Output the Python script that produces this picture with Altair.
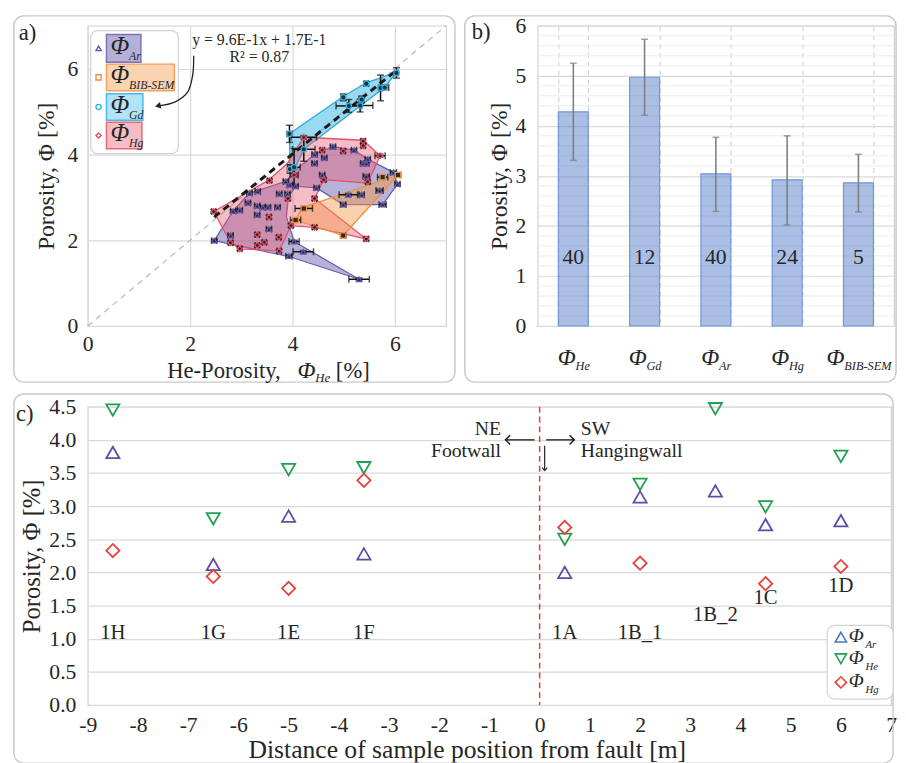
import altair as alt
import pandas as pd

FONT = "Liberation Serif, Times New Roman, DejaVu Serif, serif"
TXT = "#262626"
FRAME = "#c9c9c9"

# ---------------- panel a : values ----------------
ar_he = [2.47, 2.79, 2.84, 2.97, 3.13, 3.16, 3.32, 3.31, 3.42, 3.52, 3.31, 3.54, 3.71, 3.74, 3.90, 3.87, 3.95, 4.06, 3.93, 4.03,
         4.21, 5.30, 4.43, 4.62, 4.43, 4.79, 5.20, 5.47, 5.38, 5.44, 4.58, 5.44, 5.97, 6.05, 4.47, 5.09, 5.35, 5.70, 4.99, 5.76]
ar_phi = [1.99, 2.11, 2.68, 2.70, 2.87, 3.10, 3.14, 2.80, 2.77, 2.77, 2.59, 2.26, 2.77, 3.08, 3.08, 3.37, 3.29, 3.26, 1.63, 1.97,
          1.73, 1.09, 4.00, 3.92, 3.79, 4.18, 4.10, 3.89, 3.79, 3.79, 3.52, 3.49, 3.58, 3.31, 3.22, 3.06, 3.06, 3.16, 2.83, 2.83]
ar_xerr = [0.05, 0.05, 0.05, 0.05, 0.05, 0.05, 0.05, 0.05, 0.05, 0.05, 0.05, 0.05, 0.05, 0.05, 0.05, 0.05, 0.05, 0.05, 0.06, 0.10,
           0.20, 0.20, 0.05, 0.05, 0.05, 0.05, 0.05, 0.05, 0.05, 0.05, 0.05, 0.06, 0.06, 0.05, 0.05, 0.18, 0.05, 0.07, 0.05, 0.07]
ar_yerr = [0.03, 0.03, 0.03, 0.03, 0.03, 0.03, 0.03, 0.03, 0.03, 0.03, 0.03, 0.03, 0.03, 0.03, 0.03, 0.03, 0.03, 0.03, 0.03, 0.03,
           0.03, 0.03, 0.03, 0.03, 0.03, 0.03, 0.03, 0.03, 0.03, 0.03, 0.03, 0.03, 0.03, 0.03, 0.03, 0.03, 0.03, 0.03, 0.03, 0.03]

hg_he = [2.46, 2.79, 2.97, 3.31, 3.31, 3.45, 3.54, 3.74, 3.73, 3.55, 3.91, 3.97, 4.43, 4.43, 5.44, 4.61, 5.47, 5.38, 5.38, 5.71,
         4.99, 4.58, 4.22, 4.03]
hg_phi = [2.67, 1.94, 1.80, 1.88, 2.13, 1.95, 2.54, 1.75, 2.07, 3.39, 2.97, 2.34, 2.97, 2.30, 2.03, 3.41, 3.36, 4.31, 4.20, 3.97,
          4.08, 4.10, 4.40, 3.52]
hg_xerr = [0.04, 0.04, 0.04, 0.04, 0.04, 0.04, 0.04, 0.04, 0.04, 0.04, 0.04, 0.04, 0.04, 0.04, 0.04, 0.04, 0.04, 0.04, 0.04, 0.10,
           0.04, 0.04, 0.25, 0.08]
hg_yerr = [0.04, 0.04, 0.04, 0.04, 0.04, 0.04, 0.04, 0.04, 0.04, 0.04, 0.04, 0.04, 0.04, 0.04, 0.04, 0.04, 0.04, 0.05, 0.04, 0.04,
           0.04, 0.04, 0.04, 0.04]

bib_he = [4.22, 4.06, 4.99, 5.76, 6.06]
bib_phi = [2.74, 2.47, 2.11, 3.47, 3.52]
bib_xerr = [0.17, 0.10, 0.05, 0.10, 0.05]
bib_yerr = [0.03, 0.03, 0.03, 0.03, 0.03]

gd_he = [3.94, 4.22, 3.95, 4.03, 4.99, 5.10, 5.32, 5.35, 5.44, 5.72, 5.80, 6.03]
gd_phi = [4.48, 4.12, 3.66, 3.70, 5.33, 5.13, 5.14, 5.28, 5.65, 5.55, 5.56, 5.90]
gd_xerr = [0.05, 0.22, 0.05, 0.12, 0.04, 0.25, 0.25, 0.05, 0.04, 0.04, 0.08, 0.04]
gd_yerr = [0.20, 0.28, 0.10, 0.44, 0.08, 0.15, 0.15, 0.08, 0.05, 0.30, 0.05, 0.12]

# outlines drawn around each group (vertices)
ar_poly_he = [2.47, 3.93, 5.30, 4.03, 3.88, 3.92, 4.06, 4.47, 4.99, 5.76, 6.05, 5.97, 5.47, 5.20, 4.79, 4.43, 4.10, 3.87, 3.16, 2.84]
ar_poly_phi = [1.99, 1.62, 1.09, 1.97, 2.55, 3.00, 3.26, 3.22, 2.83, 2.83, 3.31, 3.58, 3.89, 4.10, 4.18, 4.00, 3.68, 3.37, 3.10, 2.68]
hg_poly_he = [2.46, 3.52, 3.90, 4.22, 5.38, 5.71, 5.47, 4.61, 4.43, 5.44, 4.43, 3.97, 3.74, 2.97, 2.79]
hg_poly_phi = [2.67, 3.39, 3.79, 4.40, 4.33, 3.97, 3.33, 3.41, 2.97, 2.03, 2.30, 2.34, 1.75, 1.80, 1.94]
bib_poly_he = [4.06, 4.19, 6.06, 4.99]
bib_poly_phi = [2.47, 2.76, 3.52, 2.11]
gd_poly_he = [3.94, 4.99, 5.44, 6.03, 5.80, 5.32, 4.22, 4.05, 3.95]
gd_poly_phi = [4.48, 5.35, 5.67, 5.92, 5.56, 5.13, 4.12, 3.68, 3.66]

one_to_one = [0, 7]
trend_he = [2.47, 6.03]
trend_phi = [2.54, 5.96]
eq_lines = ["y = 9.6E-1x + 1.7E-1", "R² = 0.87"]
arrow_he = [2.07, 2.05, 1.95, 1.70, 1.37]
arrow_phi = [6.30, 5.85, 5.45, 5.22, 5.13]

# ---------------- panel b ----------------
b_cats = ["He", "Gd", "Ar", "Hg", "BIB-SEM"]
b_mean = [4.28, 4.97, 3.04, 2.92, 2.86]
b_lo = [3.31, 4.21, 2.29, 2.02, 2.28]
b_hi = [5.25, 5.73, 3.77, 3.80, 3.43]
b_n = [40, 12, 40, 24, 5]
b_minor = [0.2, 0.4, 0.6, 0.8, 1.2, 1.4, 1.6, 1.8, 2.2, 2.4, 2.6, 2.8, 3.2, 3.4, 3.6, 3.8,
           4.2, 4.4, 4.6, 4.8, 5.2, 5.4, 5.6, 5.8]

# ---------------- panel c ----------------
c_pos = [-8.5, -6.5, -5, -3.5, 0.5, 2, 3.5, 4.5, 6]
c_label = ["1H", "1G", "1E", "1F", "1A", "1B_1", "1B_2", "1C", "1D"]
c_label_y = [1.08, 1.08, 1.08, 1.08, 1.08, 1.08, 1.36, 1.62, 1.80]
c_ar = [3.81, 2.12, 2.85, 2.28, 2.00, 3.14, 3.23, 2.72, 2.78]
c_he = [4.45, 2.81, 3.55, 3.58, 2.50, 3.33, 4.47, 2.99, 3.75]
c_hg = [2.33, 1.94, 1.76, 3.39, 2.68, 2.14, None, 1.83, 2.09]
c_yticks = [0, 0.5, 1, 1.5, 2, 2.5, 3, 3.5, 4, 4.5]
c_xticks = [-9, -8, -7, -6, -5, -4, -3, -2, -1, 0, 1, 2, 3, 4, 5, 6, 7]

# ---------------- colours ----------------
AR_C, BIB_C, GD_C, HG_C = "#6257ad", "#f0913a", "#2bb3e6", "#e64a5e"
C_AR, C_HE, C_HG = "#5a4fa8", "#22a050", "#e8413a"

ONE = pd.DataFrame({"k": [0]})


def ptext(text, x, y, size, align="left", italic=False, color=TXT, baseline="middle"):
    return alt.Chart(ONE).mark_text(
        text=text, align=align, baseline=baseline, fontSize=size, font=FONT, color=color,
        fontStyle="italic" if italic else "normal").encode(x=alt.value(x), y=alt.value(y))


def prect(x, x2, y, y2, fill, stroke, opacity=1.0, radius=0, sw=1.0):
    return alt.Chart(ONE).mark_rect(
        fill=fill, fillOpacity=opacity, stroke=stroke, strokeWidth=sw, cornerRadius=radius).encode(
        x=alt.value(x), x2=alt.value(x2), y=alt.value(y), y2=alt.value(y2))


def ppoint(x, y, shape, color, size=40, sw=1.5):
    return alt.Chart(ONE).mark_point(shape=shape, size=size, strokeWidth=sw, filled=False,
                                     color=color, opacity=1).encode(x=alt.value(x), y=alt.value(y))


# ======================= panel a =======================
WA, HA = 364, 305
sxA = alt.Scale(domain=[0, 7], nice=False, zero=False)
syA = alt.Scale(domain=[0, 7], nice=False, zero=False)
axXA = alt.Axis(values=[0, 2, 4, 6], title=None, labelPadding=8, tickSize=0, labelFlush=False)
axYA = alt.Axis(values=[0, 2, 4, 6], title="Porosity, Φ [%]", labelPadding=10, titlePadding=9, tickSize=0)


def XA(f):
    return alt.X(f, type="quantitative", scale=sxA, axis=axXA)


def YA(f):
    return alt.Y(f, type="quantitative", scale=syA, axis=axYA)


def dA(x, y):
    return dict(x=alt.XDatum(x, type="quantitative", scale=sxA, axis=axXA),
                y=alt.YDatum(y, type="quantitative", scale=syA, axis=axYA))


rows = []
for g, hx, hy, ex, ey in [("Ar", ar_he, ar_phi, ar_xerr, ar_yerr),
                          ("BIB-SEM", bib_he, bib_phi, bib_xerr, bib_yerr),
                          ("Gd", gd_he, gd_phi, gd_xerr, gd_yerr),
                          ("Hg", hg_he, hg_phi, hg_xerr, hg_yerr)]:
    for a, b, c, d in zip(hx, hy, ex, ey):
        rows.append({"g": g, "he": a, "phi": b, "xlo": a - c, "xhi": a + c, "ylo": b - d, "yhi": b + d})
pts = pd.DataFrame(rows)

grp_dom = ["Ar", "BIB-SEM", "Gd", "Hg"]
shape_sc = alt.Scale(domain=grp_dom, range=["triangle-up", "square", "circle", "diamond"])
col_sc = alt.Scale(domain=grp_dom, range=[AR_C, BIB_C, GD_C, HG_C])


def poly(hx, hy, stroke, fill, op):
    d = pd.DataFrame({"x": hx + hx[:1], "y": hy + hy[:1]})
    d["i"] = range(len(d))
    return alt.Chart(d).mark_line(stroke=stroke, strokeWidth=1.3, fill=fill, fillOpacity=op,
                                  strokeJoin="round").encode(x=XA("x"), y=YA("y"), order="i:Q")


frameA = prect(-75, WA + 9, -10, 362, "white", FRAME, opacity=0, radius=10, sw=1.5)
diag = alt.Chart(pd.DataFrame({"x": one_to_one, "y": one_to_one})).mark_line(
    color="#b8b8b8", strokeDash=[6, 5], strokeWidth=1.2).encode(x=XA("x"), y=YA("y"))
p_gd = poly(gd_poly_he, gd_poly_phi, "#2aa9de", "#33b5e5", 0.5)
p_ar = poly(ar_poly_he, ar_poly_phi, "#6a5fb0", "#6a5fb0", 0.48)
p_hg = poly(hg_poly_he, hg_poly_phi, "#e4506a", "#ec5a72", 0.4)
p_bib = poly(bib_poly_he, bib_poly_phi, "#f0913a", "#f39a4a", 0.45)
trend = alt.Chart(pd.DataFrame({"x": trend_he, "y": trend_phi})).mark_line(
    color="#1a1a1a", strokeDash=[7, 5], strokeWidth=3).encode(x=XA("x"), y=YA("y"))
points = alt.Chart(pts).mark_point(filled=True, fill="#2b2b2b", size=30, strokeWidth=1.3, opacity=1).encode(
    x=XA("he"), y=YA("phi"),
    shape=alt.Shape("g:N", scale=shape_sc, legend=None),
    stroke=alt.Stroke("g:N", scale=col_sc, legend=None))
xbar = alt.Chart(pts).mark_rule(color="#111", strokeWidth=1.5).encode(x=XA("xlo"), x2="xhi", y=YA("phi"))
ybar = alt.Chart(pts).mark_rule(color="#111", strokeWidth=1.5).encode(x=XA("he"), y=YA("ylo"), y2="yhi")
xcap = alt.Chart(pts).transform_fold(["xlo", "xhi"], as_=["k", "xc"]).mark_tick(
    orient="vertical", size=7, thickness=1.5, color="#111").encode(x=XA("xc"), y=YA("phi"))
ycap = alt.Chart(pts).transform_fold(["ylo", "yhi"], as_=["k", "yc"]).mark_tick(
    orient="horizontal", size=7, thickness=1.5, color="#111").encode(x=XA("he"), y=YA("yc"))

eq1 = alt.Chart(ONE).mark_text(text=eq_lines[0], fontSize=16, font=FONT, color=TXT).encode(**dA(3.35, 6.66))
eq2 = alt.Chart(ONE).mark_text(text=eq_lines[1], fontSize=16, font=FONT, color=TXT).encode(**dA(3.35, 6.27))
adf = pd.DataFrame({"x": arrow_he, "y": arrow_phi})
adf["i"] = range(len(adf))
arrow = alt.Chart(adf).mark_line(interpolate="cardinal", color="#222", strokeWidth=1.3).encode(
    x=XA("x"), y=YA("y"), order="i:Q")
ahead = alt.Chart(ONE).mark_point(shape="triangle-left", filled=True, size=45, angle=347, color="#222",
                                  opacity=1).encode(**dA(arrow_he[-1], arrow_phi[-1]))

legA = [prect(3, 92, 5, 130, "white", "#d0d0d0", radius=7, sw=1.2)]
for (lab, sub, shape, col, fill, stroke, x2, y1, y2) in [
        ("Ar", "Ar", "triangle-up", AR_C, "#b5b0d6", "#7c72b8", 54, 9, 37),
        ("BIB-SEM", "BIB-SEM", "square", BIB_C, "#fad3b0", "#f2a05c", 88, 39, 66),
        ("Gd", "Gd", "circle", GD_C, "#b2e3f6", "#45bde9", 56, 69, 96),
        ("Hg", "Hg", "diamond", HG_C, "#f6bcc4", "#e5697b", 55, 98, 125)]:
    yc = (y1 + y2) / 2
    legA.append(prect(19, x2, y1, y2, fill, stroke, sw=1.5))
    legA.append(ppoint(11, yc, shape, col, size=28, sw=1.4))
    legA.append(ptext("Φ", 23, yc - 2, 25, italic=True))
    legA.append(ptext(sub, 42, yc + 8, 12, italic=True))

titleA = [ptext("He-Porosity,", 196, 351, 23, align="right"),
          ptext("Φ", 213, 351, 24, italic=True),
          ptext("He", 231, 358, 13, italic=True),
          ptext("[%]", 252, 351, 23),
          ptext("a)", -70, 7, 23)]

A = alt.layer(frameA, diag, p_gd, p_ar, p_hg, p_bib, trend, xbar, ybar, xcap, ycap, points,
              eq1, eq2, *legA, arrow, ahead, *titleA).properties(width=WA, height=HA)

# ======================= panel b =======================
WB, HB = 362, 305
sxB = alt.Scale(domain=b_cats, paddingInner=0.58, paddingOuter=0.29)
syB = alt.Scale(domain=[0, 6], nice=False, zero=True)
axXB = alt.Axis(title=None, labels=False, ticks=False, grid=True, tickBand="extent",
                gridDash=[5, 4], gridColor="#d4d4d4", domain=False)
axYB = alt.Axis(values=[0, 1, 2, 3, 4, 5, 6], title="Porosity, Φ [%]", labelPadding=12,
                titlePadding=4, tickSize=0)


def XB(f):
    return alt.X(f, type="nominal", scale=sxB, axis=axXB, sort=b_cats)


def YB(f):
    return alt.Y(f, type="quantitative", scale=syB, axis=axYB)


bdf = pd.DataFrame({"cat": b_cats, "mean": b_mean, "lo": b_lo, "hi": b_hi, "n": b_n})
frameB = prect(-74, WB + 2, -10, 362, "white", FRAME, opacity=0, radius=10, sw=1.5)
minor = alt.Chart(pd.DataFrame({"v": b_minor})).mark_rule(color="#ececec", strokeWidth=1).encode(y=YB("v"))
bars = alt.Chart(bdf).mark_bar(fill="#4472c4", fillOpacity=0.45, stroke="#7096dc", strokeWidth=1.2).encode(
    x=XB("cat"), y=YB("mean"))
berr = alt.Chart(bdf).mark_rule(color="#7f7f7f", strokeWidth=1.6).encode(x=XB("cat"), y=YB("lo"), y2="hi")
bcap = alt.Chart(bdf).transform_fold(["lo", "hi"], as_=["k", "v"]).mark_tick(
    orient="horizontal", size=7, thickness=1.6, color="#7f7f7f").encode(x=XB("cat"), y=YB("v"))
bcnt = alt.Chart(bdf).mark_text(fontSize=22, font=FONT, color=TXT).encode(
    x=XB("cat"), y=alt.YDatum(1.38, type="quantitative", scale=syB, axis=axYB), text="n:Q")

IT_W = {"H": .72, "e": .44, "G": .72, "d": .5, "A": .61, "r": .39, "g": .5, "B": .61, "I": .33,
        "-": .33, "S": .5, "E": .61, "M": .83}
blabels = []
for cat in b_cats:
    sw_ = sum(IT_W.get(ch, .5) for ch in cat) * 12.5
    phw = 17
    left = -(phw + sw_) / 2
    xd = alt.XDatum(cat, type="nominal", scale=sxB, axis=axXB)
    blabels.append(alt.Chart(ONE).mark_text(text="Φ", fontSize=24, font=FONT, fontStyle="italic", color=TXT,
                                            align="left", baseline="middle", dx=left).encode(x=xd, y=alt.value(338)))
    blabels.append(alt.Chart(ONE).mark_text(text=cat, fontSize=12.5, font=FONT, fontStyle="italic", color=TXT,
                                            align="left", baseline="middle", dx=left + phw + 1).encode(
        x=xd, y=alt.value(346)))

B = alt.layer(frameB, minor, bars, berr, bcap, bcnt, *blabels, ptext("b)", -67, 6, 23)).properties(
    width=WB, height=HB)

# ======================= panel c =======================
WC, HC = 816, 303
sxC = alt.Scale(domain=[-9, 7], nice=False, zero=False)
syC = alt.Scale(domain=[0, 4.5], nice=False, zero=True)
axXC = alt.Axis(values=c_xticks, title="Distance of sample position from fault [m]",
                labelExpr="datum.value < 0 ? '-' + abs(datum.value) : '' + datum.value",
                labelPadding=10, titlePadding=1, tickSize=0, titleX=385, titleFontSize=26, labelFlush=False)
axYC = alt.Axis(values=c_yticks, format=".1f", title="Porosity, Φ [%]", labelPadding=12,
                titlePadding=5, tickSize=0, titleFontSize=25)


def XC(f):
    return alt.X(f, type="quantitative", scale=sxC, axis=axXC)


def YC(f):
    return alt.Y(f, type="quantitative", scale=syC, axis=axYC)


def dC(x, y):
    return dict(x=alt.XDatum(x, type="quantitative", scale=sxC, axis=axXC),
                y=alt.YDatum(y, type="quantitative", scale=syC, axis=axYC))


crow = []
for s, vals in [("Ar", c_ar), ("He", c_he), ("Hg", c_hg)]:
    for p, v in zip(c_pos, vals):
        if v is not None:
            crow.append({"s": s, "pos": p, "v": v})
cdf = pd.DataFrame(crow)
ldf = pd.DataFrame({"pos": c_pos, "lab": c_label, "ly": c_label_y})

frameC = prect(-75, WC + 2, -13, 362, "white", FRAME, opacity=0, radius=10, sw=1.5)
fault = alt.Chart(ONE).mark_rule(color="#e03c3c", strokeDash=[6, 4], strokeWidth=1.5).encode(
    x=alt.XDatum(0, type="quantitative", scale=sxC, axis=axXC))
cpts = alt.Chart(cdf).mark_point(filled=False, size=180, strokeWidth=1.8, opacity=1).encode(
    x=XC("pos"), y=YC("v"),
    shape=alt.Shape("s:N", scale=alt.Scale(domain=["Ar", "He", "Hg"],
                                           range=["triangle-up", "triangle-down", "diamond"]), legend=None),
    color=alt.Color("s:N", scale=alt.Scale(domain=["Ar", "He", "Hg"], range=[C_AR, C_HE, C_HG]), legend=None))
clabs = alt.Chart(ldf).mark_text(fontSize=21, font=FONT, color=TXT).encode(x=XC("pos"), y=YC("ly"), text="lab:N")

ann = [
    alt.Chart(ONE).mark_text(text="NE", fontSize=20, font=FONT, color=TXT, align="right").encode(**dC(-0.77, 4.16)),
    alt.Chart(ONE).mark_text(text="Footwall", fontSize=20, font=FONT, color=TXT, align="right").encode(**dC(-0.77, 3.83)),
    alt.Chart(ONE).mark_text(text="SW", fontSize=20, font=FONT, color=TXT, align="left").encode(**dC(0.82, 4.17)),
    alt.Chart(ONE).mark_text(text="Hangingwall", fontSize=20, font=FONT, color=TXT, align="left").encode(**dC(0.82, 3.83)),
    alt.Chart(ONE).mark_rule(color="#222", strokeWidth=1.4).encode(
        x=alt.XDatum(-0.68, type="quantitative", scale=sxC, axis=axXC), x2=alt.X2Datum(-0.1),
        y=alt.YDatum(4.0, type="quantitative", scale=syC, axis=axYC)),
    alt.Chart(ONE).mark_rule(color="#222", strokeWidth=1.4).encode(
        x=alt.XDatum(0.13, type="quantitative", scale=sxC, axis=axXC), x2=alt.X2Datum(0.69),
        y=alt.YDatum(4.0, type="quantitative", scale=syC, axis=axYC)),
    alt.Chart(ONE).mark_rule(color="#222", strokeWidth=1.2).encode(
        x=alt.XDatum(0.10, type="quantitative", scale=sxC, axis=axXC),
        y=alt.YDatum(3.91, type="quantitative", scale=syC, axis=axYC), y2=alt.Y2Datum(3.54)),
    alt.Chart(ONE).mark_point(shape="M1,-1L0,0L1,1", filled=False, size=90, strokeWidth=1.5, color="#222",
                              opacity=1).encode(**dC(-0.68, 4.0)),
    alt.Chart(ONE).mark_point(shape="M-1,-1L0,0L-1,1", filled=False, size=90, strokeWidth=1.5, color="#222",
                              opacity=1).encode(**dC(0.69, 4.0)),
    alt.Chart(ONE).mark_point(shape="M-1,-1L0,0L1,-1", filled=False, size=30, strokeWidth=1.2, color="#222",
                              opacity=1).encode(**dC(0.10, 3.54)),
]

legC = [prect(751, 818, 222, 297, "white", "#d4d4d4", radius=8, sw=1.2)]
for (sub, shape, col, yc) in [("Ar", "triangle-up", "#4a78c8", 234),
                              ("He", "triangle-down", C_HE, 256),
                              ("Hg", "diamond", C_HG, 280)]:
    legC.append(ppoint(765, yc, shape, col, size=130, sw=1.6))
    legC.append(ptext("Φ", 773, yc - 1, 20, italic=True))
    legC.append(ptext(sub, 790, yc + 8, 11, italic=True))

C = alt.layer(frameC, fault, cpts, clabs, *ann, *legC, ptext("c)", -73, 7, 23)).properties(width=WC, height=HC)

top = alt.hconcat(A, B, spacing=6).resolve_scale(shape="independent", stroke="independent", color="independent")
chart = alt.vconcat(top, C, spacing=6).resolve_scale(
    shape="independent", stroke="independent", color="independent").configure(
    padding={"left": 4, "top": 0, "right": 0, "bottom": 0}, background="white", font=FONT
).configure_view(stroke="#d2d2d2", strokeWidth=1.2).configure_axis(
    labelFont=FONT, titleFont=FONT, labelColor=TXT, titleColor=TXT, labelFontSize=22, titleFontSize=24,
    titleFontWeight="normal", domain=False, ticks=False, gridColor="#dadada", gridWidth=1.2)

chart.save("out.html", embed_options={"renderer": "svg", "actions": False})
